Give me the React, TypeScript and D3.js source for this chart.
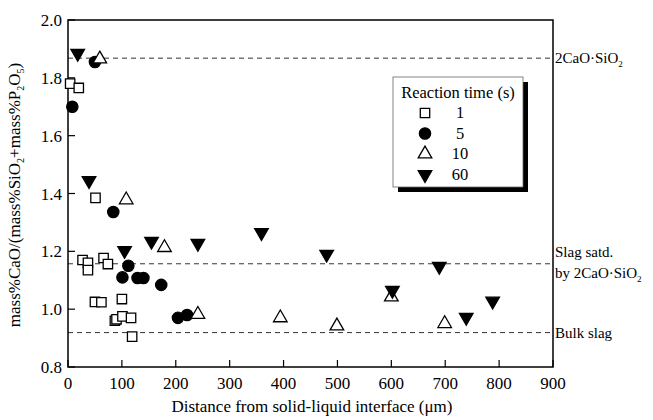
import React, { useEffect, useRef } from 'react';
import * as d3 from 'd3';

// distance (um), ratio
const t1: [number, number][] = [
  [4, 1.78], [20, 1.765], [27, 1.17], [37, 1.16], [37, 1.135], [66, 1.177], [74, 1.156],
  [51, 1.385], [50, 1.025], [62, 1.024], [100, 1.035], [87, 0.96], [90, 0.965],
  [101, 0.975], [117, 0.97], [119, 0.905],
];
const t5: [number, number][] = [
  [50, 1.855], [8, 1.70], [84, 1.336], [112, 1.15], [101, 1.11], [129, 1.108],
  [140, 1.108], [173, 1.084], [204, 0.97], [221, 0.98],
];
const t10: [number, number][] = [
  [59, 1.865], [108, 1.378], [179, 1.213], [241, 0.982], [394, 0.97], [499, 0.942],
  [600, 1.042], [699, 0.95],
];
const t60: [number, number][] = [
  [18, 1.885], [39, 1.445], [105, 1.203], [155, 1.235], [241, 1.228], [359, 1.265],
  [480, 1.19], [689, 1.148], [602, 1.065], [739, 0.972], [788, 1.028],
];

const refLines = [1.868, 1.157, 0.919];
const xTicks = [0, 100, 200, 300, 400, 500, 600, 700, 800, 900];
const yTicks = [0.8, 1.0, 1.2, 1.4, 1.6, 1.8, 2.0];
const legendLabels = ['1', '5', '10', '60'];

const W = 653, H = 420;
const FONT = "'Liberation Serif', 'Times New Roman', serif";

export default function App() {
  const ref = useRef<SVGSVGElement>(null);

  useEffect(() => {
    if (!ref.current) return;
    const svg = d3.select(ref.current);
    svg.selectAll('*').remove();

    const x = d3.scaleLinear().domain([0, 900]).range([68, 553]);
    const y = d3.scaleLinear().domain([0.8, 2.0]).range([367, 20]);

    const g = svg.append('g').style('font-family', FONT);

    // dashed reference lines
    refLines.forEach(v => {
      g.append('line')
        .attr('x1', x(0)).attr('x2', x(900))
        .attr('y1', y(v)).attr('y2', y(v))
        .attr('stroke', '#333').attr('stroke-width', 1)
        .attr('stroke-dasharray', '5,4');
    });

    // frame
    g.append('rect')
      .attr('x', x(0)).attr('y', y(2.0))
      .attr('width', x(900) - x(0)).attr('height', y(0.8) - y(2.0))
      .attr('fill', 'none').attr('stroke', '#000').attr('stroke-width', 1.5);

    // ticks inward
    xTicks.forEach(t => {
      g.append('line')
        .attr('x1', x(t)).attr('x2', x(t))
        .attr('y1', y(0.8)).attr('y2', y(0.8) - 7)
        .attr('stroke', '#000').attr('stroke-width', 1.2);
      g.append('text')
        .attr('x', x(t)).attr('y', 389)
        .attr('text-anchor', 'middle')
        .style('font-size', '17px')
        .text(String(t));
    });
    yTicks.forEach(t => {
      g.append('line')
        .attr('x1', x(0)).attr('x2', x(0) + 7)
        .attr('y1', y(t)).attr('y2', y(t))
        .attr('stroke', '#000').attr('stroke-width', 1.2);
      g.append('text')
        .attr('x', 62).attr('y', y(t) + 6)
        .attr('text-anchor', 'end')
        .style('font-size', '17px')
        .text(t.toFixed(1));
    });

    // axis labels
    g.append('text')
      .attr('x', 312).attr('y', 412)
      .attr('text-anchor', 'middle')
      .style('font-size', '17px')
      .text('Distance from solid-liquid interface (μm)');

    const yl = g.append('text')
      .attr('transform', 'translate(20,195) rotate(-90)')
      .attr('text-anchor', 'middle')
      .style('font-size', '17px');
    yl.append('tspan').text('mass%CaO/(mass%SiO');
    yl.append('tspan').style('font-size', '10px').attr('dy', 4).text('2');
    yl.append('tspan').attr('dy', -4).text('+mass%P');
    yl.append('tspan').style('font-size', '10px').attr('dy', 4).text('2');
    yl.append('tspan').attr('dy', -4).text('O');
    yl.append('tspan').style('font-size', '10px').attr('dy', 4).text('5');
    yl.append('tspan').attr('dy', -4).text(')');

    // right-side labels
    const rightLabel = (yy: number, parts: [string, boolean][]) => {
      const t = g.append('text')
        .attr('x', 555).attr('y', yy)
        .style('font-size', '15px');
      parts.forEach(([s, sub]) => {
        if (sub) t.append('tspan').style('font-size', '9px').attr('dy', 4).text(s);
        else t.append('tspan').text(s);
      });
    };
    rightLabel(y(refLines[0]) + 5, [['2CaO·SiO', false], ['2', true]]);
    rightLabel(y(refLines[1]) - 7, [['Slag satd.', false]]);
    rightLabel(y(refLines[1]) + 14, [['by 2CaO·SiO', false], ['2', true]]);
    rightLabel(y(refLines[2]) + 5, [['Bulk slag', false]]);

    // markers
    const sq = d3.symbol().type(d3.symbolSquare).size(88)();
    const ci = d3.symbol().type(d3.symbolCircle).size(100)();
    const tr = d3.symbol().type(d3.symbolTriangle).size(80)();

    const draw = (data: [number, number][], path: string | null, fill: string, rot: number) => {
      g.append('g').selectAll('path')
        .data(data)
        .enter()
        .append('path')
        .attr('d', path)
        .attr('transform', d => `translate(${x(d[0])},${y(d[1])}) rotate(${rot})`)
        .attr('fill', fill)
        .attr('stroke', '#000')
        .attr('stroke-width', 1.3);
    };
    draw(t1, sq, '#fff', 0);
    draw(t5, ci, '#000', 0);
    draw(t10, tr, '#fff', 0);
    draw(t60, tr, '#000', 180);

    // legend
    const lg = g.append('g');
    lg.append('rect')
      .attr('x', 398).attr('y', 82).attr('width', 130).attr('height', 110)
      .attr('fill', '#000');
    lg.append('rect')
      .attr('x', 393).attr('y', 77).attr('width', 130).attr('height', 110)
      .attr('fill', '#fff').attr('stroke', '#666').attr('stroke-width', 0.8);
    lg.append('text')
      .attr('x', 458).attr('y', 98)
      .attr('text-anchor', 'middle')
      .style('font-size', '16.5px')
      .text('Reaction time (s)');
    const syms = [
      { p: sq, f: '#fff', r: 0 },
      { p: ci, f: '#000', r: 0 },
      { p: tr, f: '#fff', r: 0 },
      { p: tr, f: '#000', r: 180 },
    ];
    legendLabels.forEach((lab, i) => {
      const yy = 113 + i * 20.5;
      lg.append('path')
        .attr('d', syms[i].p)
        .attr('transform', `translate(425,${yy}) rotate(${syms[i].r})`)
        .attr('fill', syms[i].f).attr('stroke', '#000').attr('stroke-width', 1.3);
      lg.append('text')
        .attr('x', 460).attr('y', yy + 5)
        .attr('text-anchor', 'middle')
        .style('font-size', '16.5px')
        .text(lab);
    });
  }, []);

  return (
    <svg
      ref={ref}
      width={W}
      height={H}
      style={{ position: 'absolute', left: 0, top: 0, background: '#fff' }}
    />
  );
}
